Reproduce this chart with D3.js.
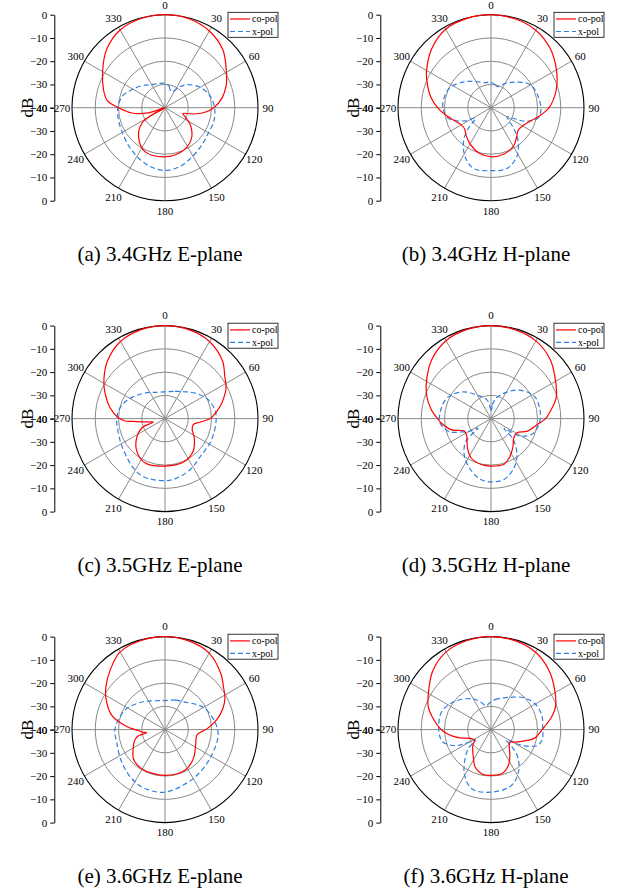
<!DOCTYPE html>
<html><head><meta charset="utf-8">
<script src="https://cdn.jsdelivr.net/npm/d3@7"></script>
<style>body{margin:0;background:#fff}svg{display:block}</style>
</head><body>
<svg id="c" width="618" height="894"></svg>
<script>
// ---------- data (angle in degrees, level in dB) ----------
const captions = ["(a) 3.4GHz E-plane","(b) 3.4GHz H-plane","(c) 3.5GHz E-plane","(d) 3.5GHz H-plane","(e) 3.6GHz E-plane","(f) 3.6GHz H-plane"];
const seriesNames = ["co-pol","x-pol"];
const radialTicks = [0,-10,-20,-30,-40];
const gridRings = [-30,-20,-10];
const angleTicks = [0,30,60,90,120,150,180,210,240,270,300,330];

const a_co_deg = [0,15,30,45,60,70,80,90,97,103,108,114,126,141,159,180,204,222,236,241,247,253,261,270,277,286,300,315,330,345];
const a_co_db  = [0,-0.4,-1.9,-4.8,-9.5,-12,-15,-19,-23,-28,-32,-30.5,-26.2,-22.2,-19.8,-18.9,-19.2,-23,-28,-33.5,-40,-32.5,-25.5,-20,-15,-12.5,-9,-4.5,-1.4,-0.3];
const a_x_deg  = [0,10,20,27,35,45,60,75,90,105,120,135,150,165,180,195,210,225,240,255,270,285,300,315,330,345];
const a_x_db   = [-29.5,-30.5,-32.5,-32,-29,-26,-22.5,-20,-18.7,-18.2,-18.4,-17.5,-16,-14,-13,-14,-15.8,-17.5,-18.8,-19.3,-19.7,-21,-24,-26.5,-28.5,-29.3];

const b_co_deg = [0,15,30,45,60,75,90,100,110,120,130,140,150,165,180,195,210,222,232,242,250,260,270,280,293,300,315,330,345];
const b_co_db  = [0,-0.4,-1.5,-4,-7.5,-11,-15,-19,-22.5,-24.3,-24.8,-23,-20.8,-19.3,-18.9,-19.8,-22,-24,-25.5,-25,-23.5,-20.5,-17,-13.7,-10,-8,-4,-1,-0.2];
const b_x_deg  = [0,10,18,30,43,55,65,80,93,103,112,120,127,132,140,152,165,180,196,208,220,228,236,243,256,273,295,314,330,345];
const b_x_db   = [-29,-30,-30.5,-28,-25,-21.5,-19.8,-19,-18.5,-19.5,-24.5,-32,-30,-27,-22,-16.3,-13,-12.9,-12.8,-16.2,-21.7,-27,-32,-27.5,-21,-19.2,-20.2,-24,-27,-28.9];

const c_co_deg = [0,15,30,45,55,63,75,82,90,96,102,112,123,139,155,180,204,221,236,248,251,253,258,262,265,267,271,281,293,302,315,330,345];
const c_co_db  = [0,-0.4,-1.7,-5,-8.6,-10.5,-14.8,-17.5,-20.5,-25,-27.6,-27.4,-25,-21.5,-19.8,-19.6,-19.1,-21.5,-25.3,-29.2,-32.4,-34.8,-33,-30,-26,-22.5,-20,-16,-12,-9,-5,-1.7,-0.4];
const c_x_deg  = [0,20,39,50,64,80,92,115,137,154,170,180,200,213,225,240,252,268,280,290,305,325,340];
const c_x_db   = [-28.5,-27.5,-25.2,-23,-20.1,-18.2,-18,-18,-17.7,-15.5,-13.8,-13.3,-13.3,-14.8,-16.7,-18.2,-19,-19.2,-19.8,-21,-23.5,-26.4,-28];

const d_co_deg = [0,15,30,45,57,72,82,90,97,109,119,130,143,155,164,180,192,207,219,234,245,254,265,270,278,289,301,315,330,345];
const d_co_db  = [0,-0.4,-1.4,-4,-7.2,-10.5,-14,-16.5,-19.8,-23.4,-27.3,-27.2,-24.4,-21.4,-19.6,-19.6,-19.8,-21.1,-23.9,-27.1,-27.4,-22.4,-18.5,-17,-14.2,-10.8,-7.7,-4,-1.3,-0.3];
const d_x_deg  = [0,6,12,21,42,61,76,92,109,121,127,133,144,155,168,180,190,204,217,228,234,240,246,252,265,283,297,314,329,347,354];
const d_x_db   = [-37,-34,-31.5,-29.2,-23.5,-19.2,-18.6,-18.9,-20.7,-25.4,-33,-27,-21,-16.6,-13.2,-12.8,-13.5,-16.9,-20.8,-25.5,-33,-29,-26,-21.5,-18,-18.2,-19.4,-23.4,-28.2,-31.5,-34];

const e_co_deg = [0,15,30,45,54,62,70,79,89,95,100,108,117,136,154,180,211,227,243,252,257,260,264,268,272,276,285,297,306,318,330,345];
const e_co_db  = [0,-0.5,-2,-6,-8.9,-10.8,-13.5,-17.3,-22,-25,-26.1,-26,-25.2,-22.5,-20.5,-20.3,-20.4,-21.5,-24.8,-26.5,-28.5,-32,-30,-28.5,-25.5,-22.5,-16.3,-11.6,-8.6,-5,-1.4,-0.3];
const e_x_deg  = [0,20,36,50,62,81,96,119,140,156,180,199,214,233,255,271,296,320,340];
const e_x_db   = [-27.5,-26.5,-25.4,-23,-20.6,-18.3,-17,-17.1,-16.3,-15.3,-13.1,-13.2,-14.5,-16.7,-18.5,-18.5,-20.9,-24.5,-26.8];

const f_co_deg = [0,15,30,45,58,70,78,90,101,111,118,123,131,144,154,166,180,192,203,211,229,237,245,257,269,280,290,300,315,330,345];
const f_co_db  = [0,-0.4,-1.6,-4.5,-7.7,-10.4,-13.3,-18,-20.8,-25.9,-28.5,-30.2,-29.6,-26.2,-22.9,-20.5,-20.3,-20.6,-22.5,-25.4,-29.6,-31.5,-30.8,-25,-19,-15,-11.3,-8.9,-4.5,-1.4,-0.3];
const f_x_deg  = [0,8,20,30,45,60,75,90,100,109,117,124,131,137,147,160,180,198,210,219,230,236,242,246,256,271,291,309,329,340,348];
const f_x_db   = [-28,-27,-25.5,-24,-20.5,-18,-17.3,-17.8,-17.5,-19,-25,-32,-27,-22.8,-18.3,-14.4,-13.1,-13.2,-17.3,-21.9,-27.2,-32,-27,-23,-18.5,-17.5,-17.5,-20.5,-24.5,-27.5,-29.5];

const panelsData = [
  [[a_co_deg,a_co_db],[a_x_deg,a_x_db]],
  [[b_co_deg,b_co_db],[b_x_deg,b_x_db]],
  [[c_co_deg,c_co_db],[c_x_deg,c_x_db]],
  [[d_co_deg,d_co_db],[d_x_deg,d_x_db]],
  [[e_co_deg,e_co_db],[e_x_deg,e_x_db]],
  [[f_co_deg,f_co_db],[f_x_deg,f_x_db]]
];

// ---------- layout ----------
const R = 93;
const colX = [165, 491];
const rowY = [107.7, 418.6, 729.6];
const FONT = "'Liberation Serif','Times New Roman',serif";
const RED = "#ff0000", BLUE = "#2f7fe0", GRID = "#8a8a8a";

const svg = d3.select("#c");
const rScale = d3.scaleLinear().domain([-40, 0]).range([0, R]).clamp(true);
const rad = d => d * Math.PI / 180;

panelsData.forEach((series, i) => {
  const cx = colX[i % 2], cy = rowY[Math.floor(i / 2)];
  const g = svg.append("g").attr("transform", `translate(${cx},${cy})`);

  g.selectAll("circle.ring").data(gridRings).join("circle")
    .attr("class","ring").attr("r", d => rScale(d))
    .attr("fill","none").attr("stroke",GRID).attr("stroke-width",1);
  g.selectAll("line.spoke").data(angleTicks).join("line")
    .attr("x1",0).attr("y1",0)
    .attr("x2", d => R*Math.sin(rad(d))).attr("y2", d => -R*Math.cos(rad(d)))
    .attr("stroke",GRID).attr("stroke-width",1);
  g.append("circle").attr("r", rScale(0)).attr("fill","none").attr("stroke","#000").attr("stroke-width",1.1);
  g.selectAll("text.ang").data(angleTicks).join("text")
    .attr("x", d => 103*Math.sin(rad(d))).attr("y", d => -103*Math.cos(rad(d)))
    .attr("dy","0.35em").attr("text-anchor","middle")
    .attr("font-family",FONT).attr("font-size",11).attr("fill","#000")
    .text(d => d);

  const line = d3.lineRadial()
    .angle(d => rad(d[0])).radius(d => rScale(d[1]))
    .curve(d3.curveCatmullRomClosed.alpha(0.5));
  const [co, xp] = series;
  const coPts = co[0].map((a,k) => [a, co[1][k]]);
  const xpPts = xp[0].map((a,k) => [a, xp[1][k]]);
  g.append("path").attr("d", line(xpPts)).attr("fill","none")
    .attr("stroke",BLUE).attr("stroke-width",1.2).attr("stroke-dasharray","5,3");
  g.append("path").attr("d", line(coPts)).attr("fill","none")
    .attr("stroke",RED).attr("stroke-width",1.2);

  const axX = -110.7;
  const topScale = d3.scaleLinear().domain([-40,0]).range([0,-R]);
  const botScale = d3.scaleLinear().domain([-40,0]).range([0,R]);
  [topScale, botScale].forEach(sc => {
    const ax = g.append("g").attr("transform",`translate(${axX},0)`)
      .call(d3.axisLeft(sc).tickValues(radialTicks).tickSize(4).tickSizeOuter(0).tickPadding(3).tickFormat(d3.format("d")));
    ax.select(".domain").attr("stroke","#000").attr("stroke-width",1);
    ax.selectAll(".tick line").attr("stroke","#000");
    ax.selectAll("text").attr("font-family",FONT).attr("font-size",11).attr("fill","#000");
  });
  g.append("text").attr("transform",`translate(${-138},0) rotate(-90)`)
    .attr("text-anchor","middle").attr("dy","0.35em")
    .attr("font-family",FONT).attr("font-size",17).text("dB");

  const lg = g.append("g").attr("transform",`translate(63,-95.4)`);
  lg.append("rect").attr("x",0).attr("y",0).attr("width",50).attr("height",25)
    .attr("fill","#fff").attr("stroke","#000").attr("stroke-width",0.8);
  seriesNames.forEach((n,k) => {
    const y = 6.7 + k*12.5;
    lg.append("line").attr("x1",2).attr("x2",22).attr("y1",y).attr("y2",y)
      .attr("stroke", k ? BLUE : RED).attr("stroke-width",1.2)
      .attr("stroke-dasharray", k ? "5,3" : null);
    lg.append("text").attr("x",24).attr("y",y).attr("dy","0.35em")
      .attr("font-family",FONT).attr("font-size",10).text(n);
  });

  svg.append("text").attr("x", cx - 5).attr("y", cy + 153.5)
    .attr("text-anchor","middle").attr("font-family",FONT).attr("font-size",21)
    .text(captions[i]);
});
</script>
</body></html>
